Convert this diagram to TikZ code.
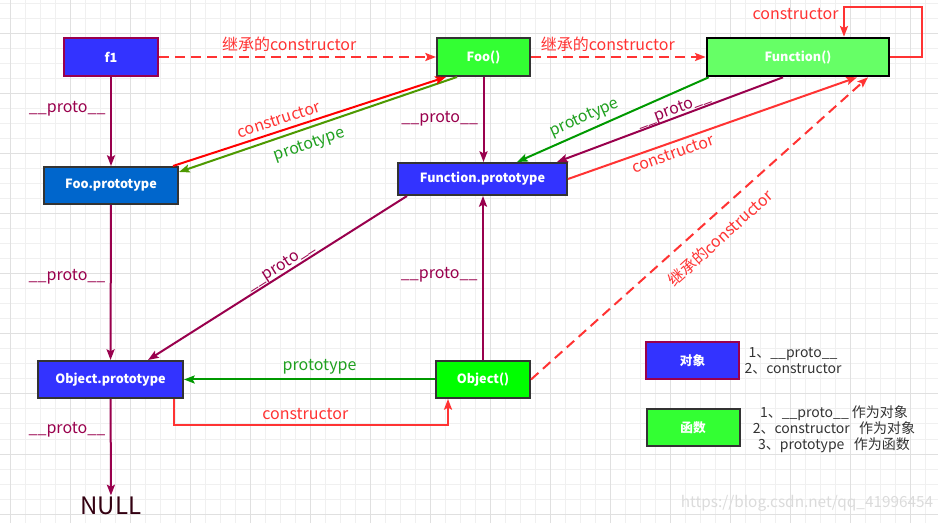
\documentclass[tikz,border=0pt]{standalone}
\usepackage{fontspec}
\setmainfont{Noto Sans CJK SC}
\usetikzlibrary{arrows.meta,calc}

\definecolor{protoline}{HTML}{99004D}
\definecolor{consred}{HTML}{FF3333}
\definecolor{protogreen}{HTML}{009900}
\definecolor{foogreen}{HTML}{4D9900}
\definecolor{greenlabel}{HTML}{1FA01F}
\definecolor{bluefill}{HTML}{3333FF}
\definecolor{darkline}{HTML}{333333}
\newcommand{\protolbl}{\_\_proto\_\_}

\begin{document}
\begin{tikzpicture}
      [x = 0.75pt, y = -0.75pt,
      gridminor/.style = {draw = black!6, line width = 0.75pt},
      gridmajor/.style = {draw = black!12, line width = 0.75pt},
      box/.style = {
         draw = darkline,
         line width = 1.5pt,
         text = white,
         font = \fontsize{9.5}{11}\selectfont\bfseries,
         inner sep = 0pt,
         minimum width = 70.5pt,
         minimum height = 27.75pt
      },
      tip/.style = {-{Stealth[length = 8pt, width = 6pt, inset = 1.5pt]}},
      proto/.style = {tip, draw = protoline, line width = 1.5pt},
      cons/.style = {tip, draw = consred, line width = 1.5pt},
      inherit/.style = {cons, dash pattern = on 7.5pt off 4.5pt},
      prot/.style = {tip, draw = protogreen, line width = 1.5pt},
      lbl/.style = {font = \fontsize{12}{14}\selectfont},
      protolabel/.style = {lbl, text = protoline},
      conslabel/.style = {lbl, text = consred},
      protlabel/.style = {lbl, text = greenlabel},
      legend/.style = {
         text = darkline,
         align = center,
         font = \fontsize{10.5}{12}\selectfont
      }]
      \useasboundingbox (0, 0) rectangle (938, 523);
      \fill[white] (0, 0) rectangle (938, 523);

      % grid
      \foreach \k in {0,...,61}
         \draw[gridminor] (10.7 + 15*\k, 0) -- (10.7 + 15*\k, 523);
      \foreach \k in {0,...,34}
         \draw[gridminor] (0, 4 + 15*\k) -- (938, 4 + 15*\k);
      \foreach \k in {0,...,15}
         \draw[gridmajor] (10.7 + 60*\k, 0) -- (10.7 + 60*\k, 523);
      \foreach \k in {0,...,8}
         \draw[gridmajor] (0, 34 + 60*\k) -- (938, 34 + 60*\k);

      % objects and functions
      \node[box, fill = bluefill, draw = protoline, minimum width = 70.5pt,
         minimum height = 28.5pt] (f1) at (111, 57) {f1};
      \node[box, fill = green!80!white, minimum width = 69.75pt,
         minimum height = 28.5pt] (foo) at (483.5, 57) {Foo()};
      \node[box, fill = green!60!white, draw = black, line width = 2pt,
         minimum width = 136.5pt, minimum height = 28.5pt] (func) at (798, 57) {Function()};
      \node[box, fill = {rgb,255:red,0;green,102;blue,204},
         minimum width = 100.5pt] (fooproto) at (111, 185.5) {Foo.prototype};
      \node[box, fill = bluefill, minimum width = 126.75pt,
         minimum height = 24pt] (funcproto) at (482.5, 179) {Function.prototype};
      \node[box, fill = bluefill, minimum width = 108.75pt] (objproto) at (110.5, 379.5) {Object.prototype};
      \node[box, fill = green] (obj) at (483, 379.5) {Object()};
      \node[text = {rgb,255:red,51;green,0;blue,17}, font = \fontsize{18}{20}\selectfont,
         inner sep = 1pt] (null) at (111, 506) {NULL};

      % legend
      \node[box, fill = bluefill, draw = protoline, minimum width = 69.75pt] (objkey) at (692.5, 360.5) {对象};
      \node[box, fill = green!80!white, minimum width = 69.75pt] (funckey) at (693, 427.5) {函数};
      \node[legend] (objtext) at (793, 361) {1、\protolbl\\2、constructor};
      \node[legend] (functext) at (834, 429)
         {1、\protolbl{} 作为对象\\2、constructor\ \ \ 作为对象\\3、prototype\ \ \ 作为函数};

      % __proto__ chain
      \draw[proto] (f1) -- node[protolabel, left, pos = 0.36] {\protolbl} (fooproto);
      \draw[proto] (foo.south) -- node[protolabel, left, pos = 0.49] {\protolbl} (foo.south |- funcproto.north);
      \draw[proto] (fooproto) -- node[protolabel, left, pos = 0.46] {\protolbl} (objproto);
      \draw[proto] (obj.north) -- node[protolabel, left, pos = 0.52] {\protolbl} (obj.north |- funcproto.south);
      \draw[proto] (objproto) -- node[protolabel, left, pos = 0.32] {\protolbl} (null);
      \draw[proto] ($(func.south) + (-15, 0)$) -- node[protolabel, sloped, above = -1.5pt, pos = 0.47, inner sep = 0.5pt]
         {\protolbl} ($(funcproto.north) + (74.5, 0)$);
      \draw[proto] ($(funcproto.south west) + (10, 0)$) -- node[protolabel, sloped, above = -1pt, pos = 0.47,
         inner sep = 0.5pt] {\protolbl} ($(objproto.north) + (37.5, 0)$);

      % prototype
      \draw[prot, draw = foogreen] ($(foo.south west) + (21, 0)$) -- node[protlabel, sloped, below = 3pt, pos = 0.55]
         {prototype} ($(fooproto.north east) + (0, 6)$);
      \draw[prot] ($(func.south west) + (3, 0)$) -- node[protlabel, sloped, above, pos = 0.62]
         {prototype} ($(funcproto.north) + (34.5, 0)$);
      \draw[prot] (obj) -- node[protlabel, above, pos = 0.46] {prototype} (objproto);

      % constructor
      \draw[cons, draw = red] ($(fooproto.north east) + (-6, 0)$) -- node[conslabel, sloped, above, pos = 0.4]
         {constructor} ($(foo.south west) + (10, 0)$);
      \draw[cons] (funcproto.east) -- node[conslabel, sloped, below, pos = 0.35]
         {constructor} ($(func.south) + (59, 0)$);
      \draw[cons] (func.east) -- ++(32, 0) |- ($(func.north) + (46, -30)$)
         -- node[conslabel, left, pos = 0.26] {constructor} ($(func.north) + (46, 0)$);
      \draw[cons] ($(objproto.south east) + (-10.5, 0)$) -- ++(0, 26)
         -| node[conslabel, above, pos = 0.24] {constructor} ($(obj.south west) + (13, 0)$);

      % inherited constructor
      \draw[inherit] (f1) -- node[conslabel, above, pos = 0.47] {继承的constructor} (foo);
      \draw[inherit] (foo) -- node[conslabel, above, pos = 0.44] {继承的constructor} (func);
      \draw[inherit] (obj.east) -- node[conslabel, sloped, below = 6pt, pos = 0.52]
         {继承的constructor} ($(func.south) + (70, 0)$);

      % watermark
      \node[text = black!14, font = \fontsize{11.5}{13}\selectfont] (mark) at (807, 503)
         {https://blog.csdn.net/qq\_41996454};

   \end{tikzpicture}
\end{document}
